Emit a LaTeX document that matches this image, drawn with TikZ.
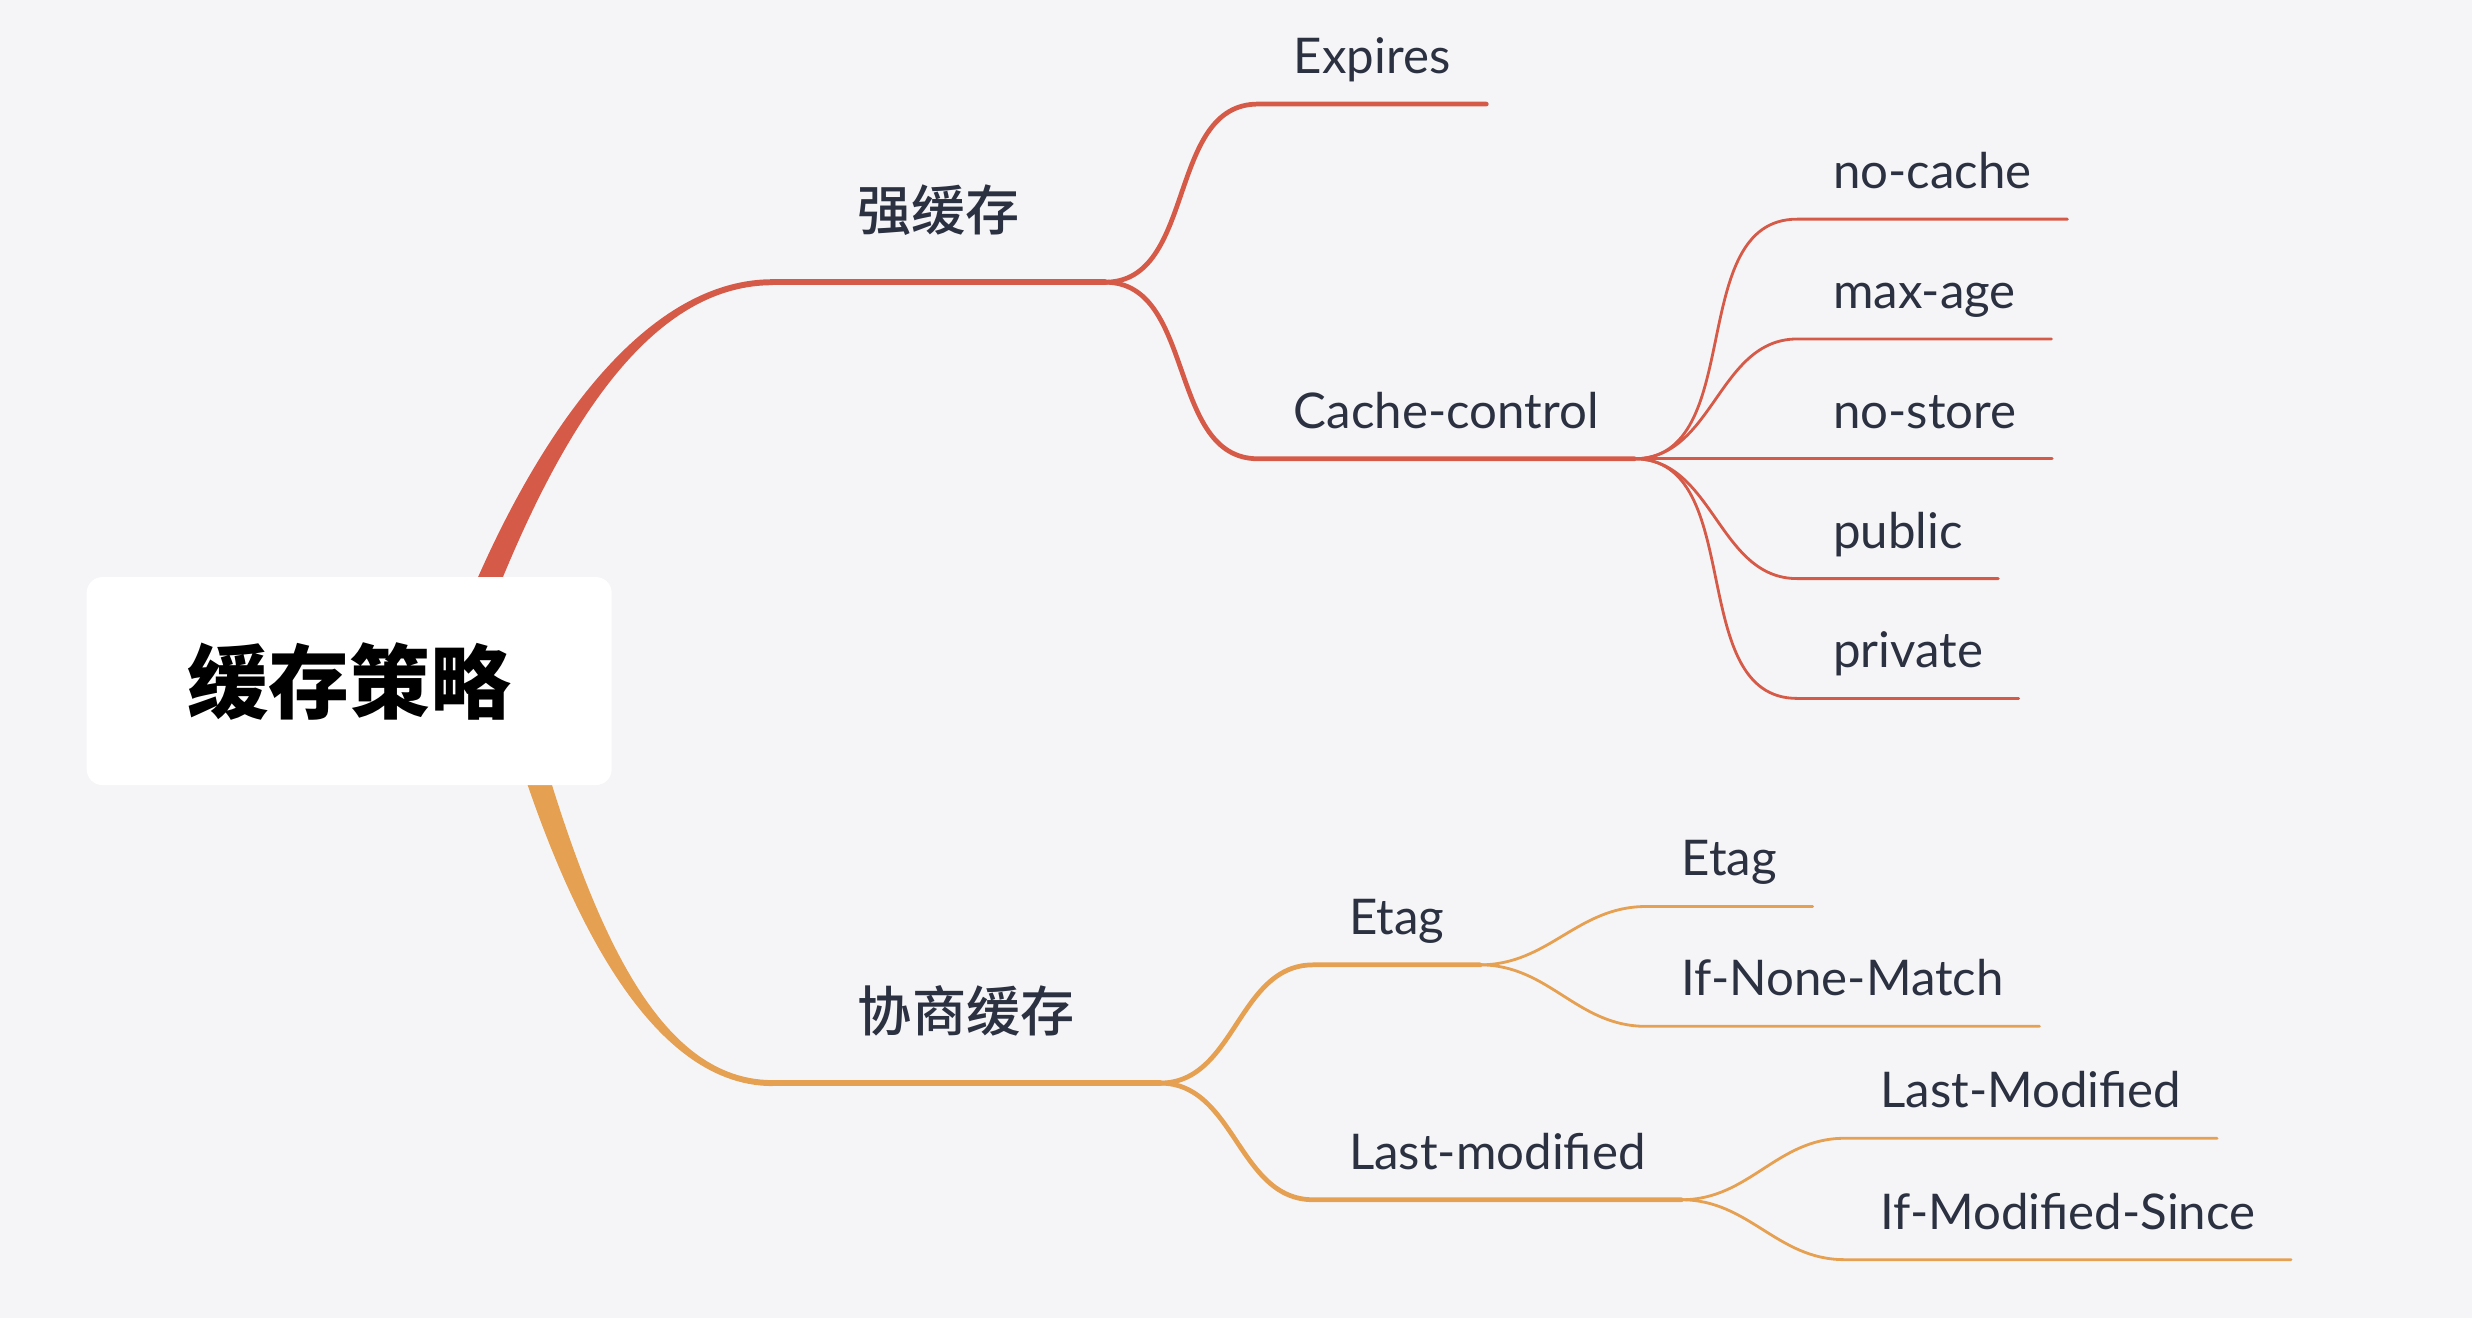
\documentclass[tikz,border=0pt]{standalone}
\usepackage{fontspec}
\setmainfont{Lato}
\newfontfamily\cjk{Noto Sans CJK SC}
\newfontfamily\cjkmid{Noto Sans CJK SC}[UprightFont={* Medium}]
\usetikzlibrary{backgrounds}

\definecolor{paper}{HTML}{F5F5F8}
\definecolor{hotred}{HTML}{D65A48}
\definecolor{warm}{HTML}{E5A052}
\definecolor{ink}{HTML}{2B3140}

\begin{document}
\begin{tikzpicture}[
    x=0.15765mm, y=-0.15765mm,
    every node/.style={font=\fontsize{14}{16}\selectfont, text=ink},
    rootbox/.style={fill=white, rounded corners=4.5pt, minimum width=5.25cm, minimum height=2.08cm, font=\cjk\bfseries\fontsize{23}{26}\selectfont, text=black},
    topic/.style={anchor=south west, inner xsep=0pt, inner ysep=14.5pt, text depth=0pt, font=\cjkmid\fontsize{15.4}{18}\selectfont},
    leaf/.style={anchor=south west, inner xsep=10pt, inner ysep=8.5pt, text depth=0pt},
    lone/.style={line width=1.7pt, line cap=round},
    ltwo/.style={line width=1.35pt, line cap=round, line join=round},
    lthree/.style={line width=0.8pt, line cap=round, line join=round},
]
\useasboundingbox (0,0) rectangle (1568,836);

% root and main topics
\node[rootbox] (root) at (221.5,432) {缓存策略};
\node[topic, minimum width=3.31cm] (strong) at (490,179) {强缓存};
\node[topic, minimum width=3.86cm] (nego) at (490,687) {协商缓存};

% second level
\node[leaf] (expires) at (798,66) {Expires};
\node[leaf] (cc) at (798,291) {Cache-control};
\node[leaf] (etag) at (833,612) {Etag};
\node[leaf] (lastmod) at (833,761) {Last-modified};

% third level
\node[leaf] (nocache) at (1140,139) {no-cache};
\node[leaf] (maxage) at (1140,215) {max-age};
\node[leaf] (nostore) at (1140,291) {no-store};
\node[leaf] (public) at (1140,367) {public};
\node[leaf] (private) at (1140,443) {private};
\node[leaf] (etaghdr) at (1044,575) {Etag};
\node[leaf] (inm) at (1044,651) {If-None-Match};
\node[leaf] (lmhdr) at (1170,722) {Last-Modified};
\node[leaf] (ims) at (1170,799) {If-Modified-Since};

\begin{pgfonlayer}{background}
\fill[paper] (0,0) rectangle (1568,836);
\coordinate (redfoot) at ([shift={(58,18)}]root.center);
\coordinate (warmfoot) at ([shift={(98,-12)}]root.center);
% tapered main branches
\fill[hotred] ([shift={(-7.6,-2.5)}]redfoot) .. controls +(50,-150) and +(-90,0) .. ([yshift=0.85pt]strong.south west)
  -- ([yshift=-0.85pt]strong.south west) .. controls +(-90,0) and +(50,-150) .. ([shift={(7.6,2.5)}]redfoot) -- cycle;
\fill[warm] ([shift={(-7.7,2.1)}]warmfoot) .. controls +(40,150) and +(-80,0) .. ([yshift=-0.85pt]nego.south west)
  -- ([yshift=0.85pt]nego.south west) .. controls +(-80,0) and +(40,150) .. ([shift={(7.7,-2.1)}]warmfoot) -- cycle;
\end{pgfonlayer}

\draw[lone, hotred] (strong.south west) -- (strong.south east);
\draw[lone, warm] (nego.south west) -- (nego.south east);

\foreach \n in {expires,cc}
  \draw[ltwo, hotred] (strong.south east) to[out=0,in=180] (\n.south west) -- (\n.south east);
\foreach \n in {etag,lastmod}
  \draw[ltwo, warm] (nego.south east) to[out=0,in=180] (\n.south west) -- (\n.south east);

\foreach \n in {nocache,maxage,nostore,public,private}
  \draw[lthree, hotred] (cc.south east) to[out=0,in=180] (\n.south west) -- (\n.south east);
\foreach \n in {etaghdr,inm}
  \draw[lthree, warm] (etag.south east) to[out=0,in=180] (\n.south west) -- (\n.south east);
\foreach \n in {lmhdr,ims}
  \draw[lthree, warm] (lastmod.south east) to[out=0,in=180] (\n.south west) -- (\n.south east);
\end{tikzpicture}
\end{document}
